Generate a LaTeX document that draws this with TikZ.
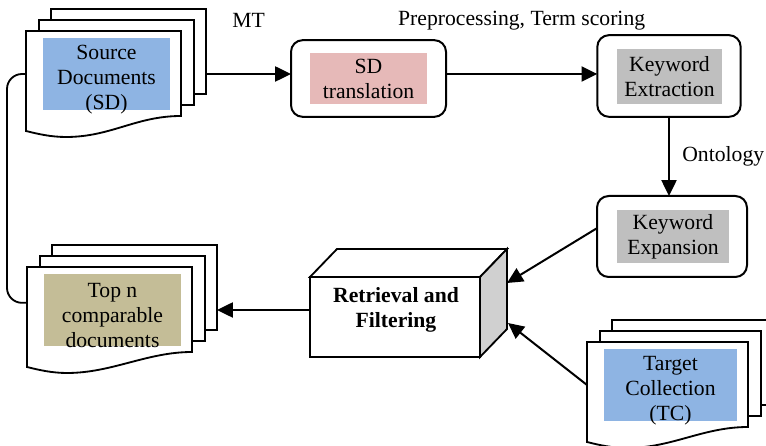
\documentclass[tikz,border=0pt]{standalone}
\usepackage{fontspec}
\setmainfont{Liberation Serif}
\usepackage{tikz}
\usetikzlibrary{arrows.meta}

\definecolor{docblue}{HTML}{8EB4E3}
\definecolor{sdpink}{HTML}{E6B9B8}
\definecolor{kwgray}{HTML}{BFBFBF}
\definecolor{toptan}{HTML}{C4BD97}
\definecolor{sidegray}{HTML}{D0D0D0}

% stack of three pages: name, x, y (front page corner), width, fill, text
\newcommand\docstack[6]{%
  \node (#1-front) [docpage, draw=none, fill=none, minimum width={#4*0.6pt}] at (#2,#3) {};
  \node (#1-back) [docpage, minimum width={#4*0.6pt}] at ([shift={(25,-22)}]#1-front.north west) {};
  \node (#1-mid) [docpage, minimum width={#4*0.6pt}] at ([shift={(13,-11)}]#1-front.north west) {};
  \draw [link, fill=white] (#1-front.north west) -- (#1-front.north east) -- (#1-front.south east)
    .. controls +(-45,0) and +(45,0) .. ([shift={(40,21)}]#1-front.south west)
    .. controls +(-15,0) and +(12,3) .. ([shift={(0,15)}]#1-front.south west) -- cycle;
  \node (#1-fill) [tag, fill=#5, minimum width={(#4-28)*0.6pt}] at ([shift={(#4/2+3,43)}]#1-front.north west) {};
  \node (#1) [align=center] at ([yshift=-3.5pt]#1-fill) {#6};
}

\begin{document}
\begin{tikzpicture}[x=0.6pt, y=-0.6pt,
    every node/.style={font=\fontsize{13}{15}\selectfont, inner sep=0pt, outer sep=0pt},
    docpage/.style={draw, fill=white, line width=1.1pt, anchor=north west, minimum height=51pt},
    tag/.style={align=center, minimum height=43pt},
    box/.style={draw, line width=1.2pt, rounded corners=7pt},
    face/.style={draw, line width=1.2pt, minimum width=102pt, minimum height=48pt},
    boldtext/.style={align=center, font=\fontsize{13}{15}\selectfont\bfseries},
    arrow/.style={-{Triangle[length=9.5pt,width=9pt]}, line width=1.2pt},
    link/.style={line width=1.1pt}]
  \useasboundingbox (0,0) rectangle (766,446);

  % document stacks
  \docstack{sd}{26}{31}{155}{docblue}{Source\\Documents\\(SD)}
  \docstack{top}{27}{267}{165}{toptan}{Top n\\comparable\\documents}
  \docstack{tc}{587}{342}{161}{docblue}{Target\\Collection\\(TC)}

  % process boxes
  \node (sdt) [box, minimum width=93pt, minimum height=46pt] at (368.5,78.5) {};
  \node (sdt-tag) [tag, fill=sdpink, minimum width=70pt, minimum height=31pt] at (sdt) {SD\\translation};
  \node (kwx) [box, minimum width=86pt, minimum height=49pt] at (669,76) {};
  \node (kwx-tag) [tag, fill=kwgray, minimum width=63pt, minimum height=33pt] at (669.5,76.5) {Keyword\\Extraction};
  \node (kwe) [box, minimum width=90pt, minimum height=48.6pt] at (672,236.5) {};
  \node (kwe-tag) [tag, fill=kwgray, minimum width=67pt, minimum height=32pt] at (673,236.5) {Keyword\\Expansion};

  % retrieval cuboid
  \node (rf) [face] at (395,317) {};
  \draw [link, fill=white] (rf.north west) -- ++(27,-28) -- ([shift={(27,-28)}]rf.north east) -- (rf.north east) -- cycle;
  \draw [link, fill=sidegray] (rf.north east) -- ++(27,-28) -- ([shift={(27,-28)}]rf.south east) -- (rf.south east) -- cycle;
  \node (rf-text) [boldtext] at (396,310) {Retrieval and\\Filtering};
  \coordinate (rf-in1) at ([shift={(27,6)}]rf.north east);
  \coordinate (rf-in2) at ([shift={(28,46)}]rf.north east);

  \path [arrow]
    (sd-back.east |- sd-fill) edge node [yshift=32pt] {MT} (sdt.west |- sd-fill)
    (sdt.east |- sd-fill) edge node [yshift=32pt] {Preprocessing, Term scoring} (kwx.west |- sd-fill)
    (kwx.south) edge node [right, xshift=8pt] {Ontology} (kwx.south |- kwe.north)
    ([yshift=5pt]kwe.west) edge (rf-in1)
    (tc-front.west |- tc-fill) edge (rf-in2)
    (rf.west |- rf-text) edge (top-back.east |- rf-text);

  \draw [link, rounded corners=9pt] (sd-front.west |- sd-fill) -- ++(-19,0) |- ([yshift=4pt]top-front.west);
\end{tikzpicture}
\end{document}
